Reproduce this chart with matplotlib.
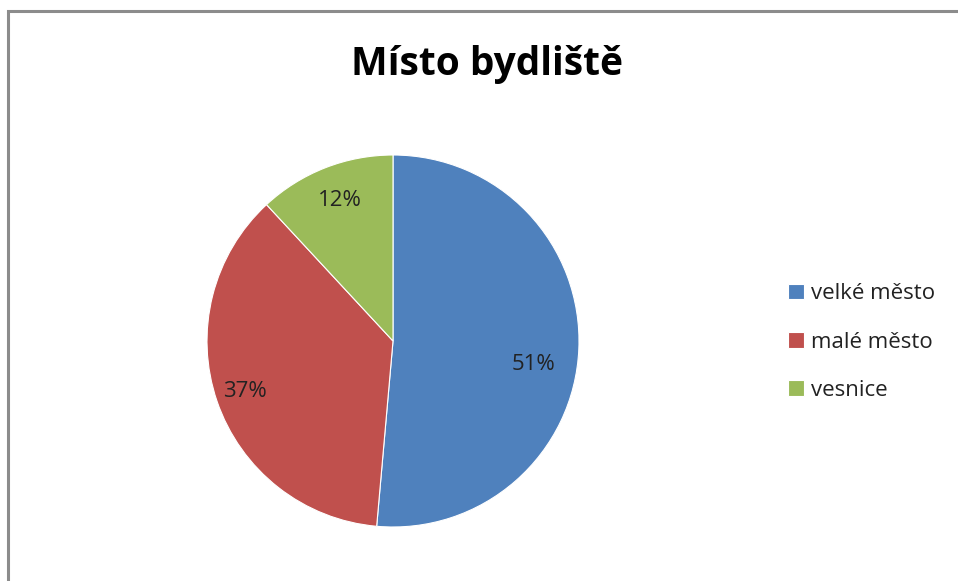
import matplotlib.pyplot as plt
from matplotlib.patches import Rectangle

# Data
categories = ['velké město', 'malé město', 'vesnice']
shares = [51.4, 36.7, 11.9]
colors = ['#4F81BD', '#C0504D', '#9BBB59']

# label placement inside the slices (axes units, like Excel "best fit")
label_pos = [(0.753, -0.124), (-0.796, -0.269), (-0.285, 0.753)]

plt.rcParams['font.family'] = ['Open Sans', 'DejaVu Sans']

fig = plt.figure(figsize=(9.58, 5.81), dpi=100)
fig.patch.set_facecolor('white')

# chart border (only top/left edges visible in picture)
fig.patches.append(Rectangle((8 / 958, -0.05), 1.1, 1 - 11 / 581 + 0.05,
                             transform=fig.transFigure, fill=False,
                             edgecolor='#8c8c8c', linewidth=2.2))

# pie axes: center (393, 341) px, radius 186 px
r = 186
ax = fig.add_axes([(393 - r) / 958, (581 - 341 - r) / 581, 2 * r / 958, 2 * r / 581])
wedges, texts, autotexts = ax.pie(shares, colors=colors, startangle=90, counterclock=False,
                                  autopct='%.0f%%', pctdistance=0.8, radius=1,
                                  wedgeprops=dict(edgecolor='white', linewidth=0.8),
                                  textprops=dict(fontsize=16, color='#222222'))
for t, pos in zip(autotexts, label_pos):
    t.set_position(pos)
ax.set_xlim(-1, 1)
ax.set_ylim(-1, 1)
ax.set_aspect('equal')
ax.axis('off')

fig.text(487 / 958, 1 - 64 / 581, 'Místo bydliště', ha='center', va='center',
         fontsize=28, fontweight='bold', color='black')

fig.legend(wedges, categories, loc='center left', bbox_to_anchor=(768 / 958, 1 - 342 / 581),
           frameon=False, fontsize=16, handlelength=0.7, handleheight=0.7,
           handletextpad=0.35, labelspacing=1.22, labelcolor='#222222')

fig.savefig('out.png', dpi=100, facecolor='white')
